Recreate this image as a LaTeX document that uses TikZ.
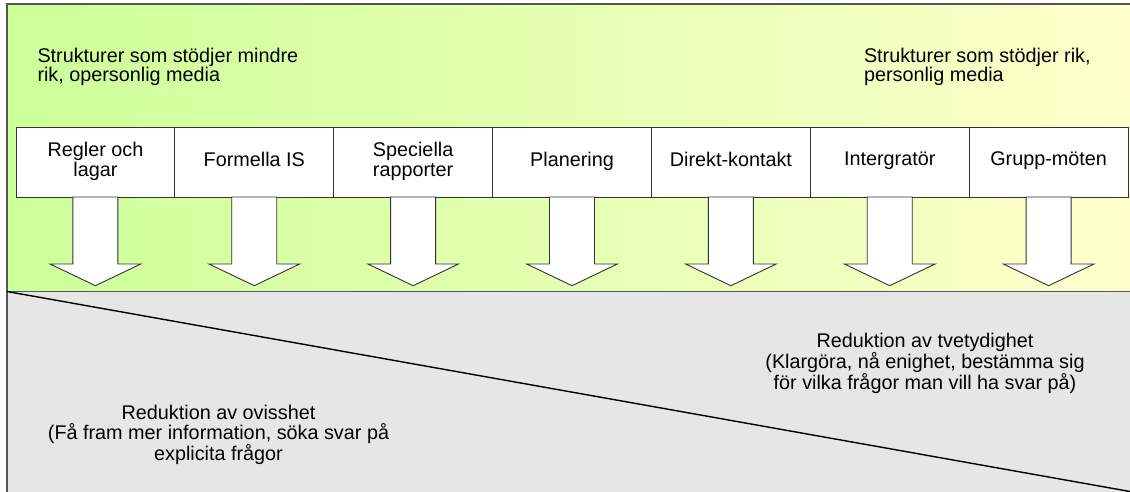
\documentclass[tikz,border=0pt]{standalone}
\usepackage{fontspec}
\setmainfont{Liberation Sans}
\definecolor{leftgreen}{RGB}{204,255,153}
\definecolor{rightyellow}{RGB}{255,255,204}
\definecolor{lowgray}{RGB}{230,230,230}
\definecolor{frameline}{RGB}{85,85,85}
\definecolor{boxline}{RGB}{50,50,50}
\begin{document}
\begin{tikzpicture}[x=1pt,y=-1pt,
  every node/.style={inner sep=0pt, outer sep=0pt},
  txt/.style={font=\fontsize{19.8}{19.6}\selectfont, align=#1,
    execute at begin node=\strut, execute at end node=\strut},
  txt/.default=center,
  itembox/.style={draw=boxline, line width=0.9pt, fill=white,
    minimum width=158.86pt, minimum height=70pt, txt},
  blockarrow/.style={draw=boxline, line width=0.9pt, fill=white, line join=miter},
  region/.style={draw=frameline, line width=1.5pt}
]
\useasboundingbox (0,0) rectangle (1130,491);
\clip (0,0) rectangle (1130,491);

% upper band with the structures, lower band with the reductions
\path[region, left color=leftgreen, right color=rightyellow]
  (7,4) rectangle (1140,291.5);
\path[region, fill=lowgray] (7,291.5) rectangle (1140,500);

% dividing diagonal between the two kinds of reduction
\coordinate (diagA) at (7,291.5);
\coordinate (diagB) at (1130,491.5);
\draw[black, line width=1.4pt] (diagA) -- (diagB);

% headings of the upper band
\node[txt=left, anchor=north west] (lefthead) at (37.5,48)
  {Strukturer som stödjer mindre\\rik, opersonlig media};
\node[txt=left, anchor=north west] (righthead) at (864,48)
  {Strukturer som stödjer rik,\\personlig media};

% the seven structures
\foreach \lbl [count=\i] in {{Regler och\\lagar},{Formella IS},
    {Speciella\\rapporter},{Planering},{Direkt-kontakt},{Intergratör},{Grupp-möten}} {
  \node[itembox] (b\i) at ({16+158.86*(\i-0.5)},162) {\lbl};
}

% block arrows pointing down from each structure
\foreach \i in {1,...,7} {
  \draw[blockarrow] ([xshift=-22.5pt]b\i.south) -- ++(0,67) -- ++(-22.8,0)
    -- ++(45.3,21.7) -- ++(45.3,-21.7) -- ++(-22.8,0) -- ++(0,-67) -- cycle;
}

% texts of the lower band
\node[txt, anchor=north] (ambig) at (925,333)
  {Reduktion av tvetydighet\\(Klargöra, nå enighet, bestämma sig\\för vilka frågor man vill ha svar på)};
\node[txt, anchor=north] (uncert) at (218.5,405.5)
  {Reduktion av ovisshet\\(Få fram mer information, söka svar på\\explicita frågor};
\end{tikzpicture}
\end{document}
